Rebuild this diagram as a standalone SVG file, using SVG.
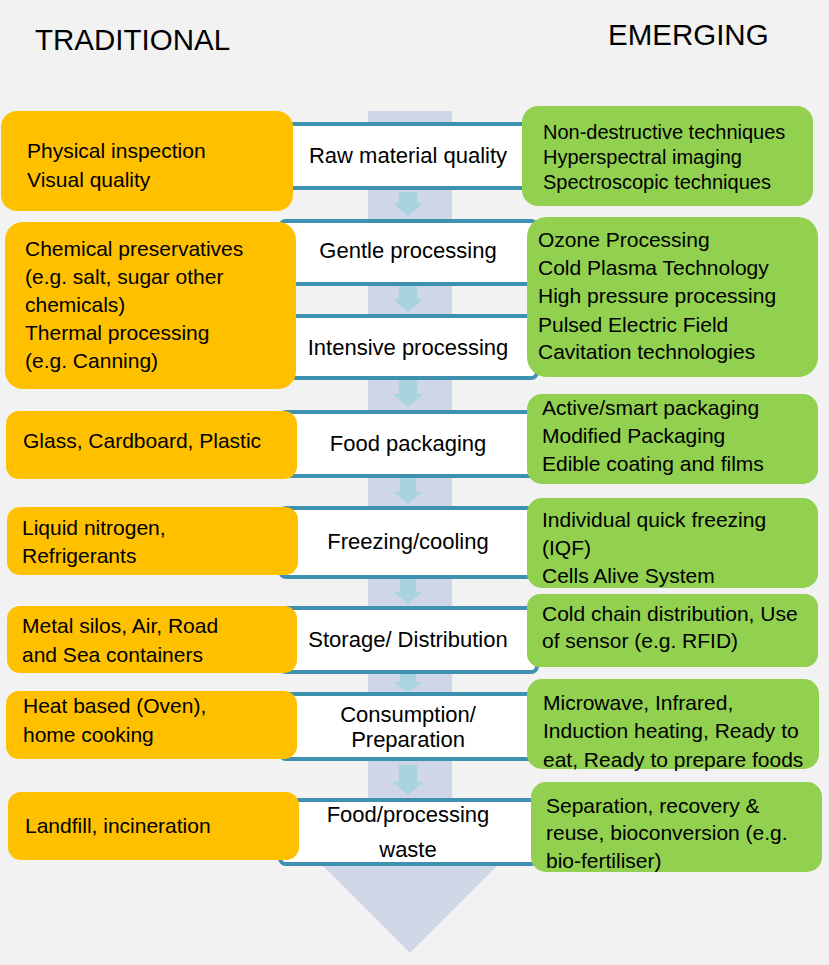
<svg xmlns="http://www.w3.org/2000/svg" width="829" height="965" viewBox="0 0 829 965">
<style>
  text { font-family: "Liberation Sans", Arial, sans-serif; fill: #000; }
  .t { font-size: 21px; }
  .ts { font-size: 20px; }
  .c { font-size: 22px; text-anchor: middle; }
  .h { font-size: 29.5px; }
  .stage { fill: #ffffff; stroke: #3f91b0; stroke-width: 4; }
  .trad { fill: #ffc000; }
  .emer { fill: #92d050; }
  .small { fill: #a9d3df; }
</style>
<rect x="0" y="0" width="829" height="965" fill="#f2f2f2"/>
<polygon id="flow-arrow" points="368,111 452,111 452,865 498,865 410,953 322,865 368,865" fill="#cfd7e7"/>
<text class="h" x="35" y="50">TRADITIONAL</text>
<text class="h" x="608" y="45">EMERGING</text>

<g id="stages">
  <g id="stage-raw"><rect class="stage" x="280" y="124" width="257" height="64" rx="6"/></g>
  <g id="stage-gentle"><rect class="stage" x="280" y="221" width="257" height="63" rx="6"/></g>
  <g id="stage-intensive"><rect class="stage" x="280" y="316" width="257" height="62" rx="6"/></g>
  <g id="stage-packaging"><rect class="stage" x="280" y="412" width="257" height="64" rx="6"/></g>
  <g id="stage-freezing"><rect class="stage" x="280" y="508" width="257" height="69" rx="6"/></g>
  <g id="stage-storage"><rect class="stage" x="280" y="608" width="257" height="64" rx="6"/></g>
  <g id="stage-consumption"><rect class="stage" x="280" y="694" width="257" height="65" rx="6"/></g>
  <g id="stage-waste"><rect class="stage" x="280" y="800" width="257" height="64" rx="6"/></g>
</g>

<g id="connectors">
  <polygon class="small" points="399,192 417,192 417,203 423,203 408,216 393,203 399,203"/>
  <polygon class="small" points="399,286 417,286 417,299 423,299 408,312 393,299 399,299"/>
  <polygon class="small" points="399,380 417,380 417,394 423,394 408,407 393,394 399,394"/>
  <polygon class="small" points="400,478 416,478 416,492 422,492 408,504 394,492 400,492"/>
  <polygon class="small" points="400,579 416,579 416,592 422,592 408,604 394,592 400,592"/>
  <polygon class="small" points="400,674 416,674 416,682 422,682 408,692 394,682 400,682"/>
  <polygon class="small" points="399,765 417,765 417,782 423,782 408,795 393,782 399,782"/>
</g>

<g id="stage-labels">
  <text class="c" x="408" y="163">Raw material quality</text>
  <text class="c" x="408" y="258">Gentle processing</text>
  <text class="c" x="408" y="355">Intensive processing</text>
  <text class="c" x="408" y="451">Food packaging</text>
  <text class="c" x="408" y="549">Freezing/cooling</text>
  <text class="c" x="408" y="647">Storage/ Distribution</text>
  <text class="c" x="408" y="722">Consumption/</text>
  <text class="c" x="408" y="747">Preparation</text>
  <text class="c" x="408" y="822">Food/processing</text>
  <text class="c" x="408" y="857">waste</text>
</g>

<g id="trad-raw">
  <rect class="trad" x="1" y="111" width="292" height="100" rx="16"/>
  <text class="t" x="27" y="158">Physical inspection</text>
  <text class="t" x="27" y="187">Visual quality</text>
</g>
<g id="trad-processing">
  <rect class="trad" x="5" y="222" width="291" height="167" rx="18"/>
  <text class="t" x="25" y="256">Chemical preservatives</text>
  <text class="t" x="25" y="284">(e.g. salt, sugar other</text>
  <text class="t" x="25" y="312">chemicals)</text>
  <text class="t" x="25" y="340">Thermal processing</text>
  <text class="t" x="25" y="368">(e.g. Canning)</text>
</g>
<g id="trad-packaging">
  <rect class="trad" x="6" y="411" width="291" height="68" rx="13"/>
  <text class="t" x="23" y="448">Glass, Cardboard, Plastic</text>
</g>
<g id="trad-freezing">
  <rect class="trad" x="7" y="507" width="291" height="68" rx="13"/>
  <text class="t" x="22" y="535">Liquid nitrogen,</text>
  <text class="t" x="22" y="563">Refrigerants</text>
</g>
<g id="trad-storage">
  <rect class="trad" x="7" y="606" width="290" height="67" rx="13"/>
  <text class="t" x="22" y="633">Metal silos, Air, Road</text>
  <text class="t" x="22" y="662">and Sea containers</text>
</g>
<g id="trad-consumption">
  <rect class="trad" x="6" y="691" width="291" height="68" rx="13"/>
  <text class="t" x="23" y="713">Heat based (Oven),</text>
  <text class="t" x="23" y="742">home cooking</text>
</g>
<g id="trad-waste">
  <rect class="trad" x="8" y="792" width="291" height="68" rx="13"/>
  <text class="t" x="25" y="833">Landfill, incineration</text>
</g>

<g id="emer-raw">
  <rect class="emer" x="522" y="106" width="291" height="100" rx="16"/>
  <text class="ts" x="543" y="139">Non-destructive techniques</text>
  <text class="ts" x="543" y="164">Hyperspectral imaging</text>
  <text class="ts" x="543" y="189">Spectroscopic techniques</text>
</g>
<g id="emer-processing">
  <rect class="emer" x="527" y="217" width="291" height="160" rx="20"/>
  <text class="t" x="538" y="247">Ozone Processing</text>
  <text class="t" x="538" y="275">Cold Plasma Technology</text>
  <text class="t" x="538" y="303">High pressure processing</text>
  <text class="t" x="538" y="332">Pulsed Electric Field</text>
  <text class="t" x="538" y="359">Cavitation technologies</text>
</g>
<g id="emer-packaging">
  <rect class="emer" x="527" y="394" width="291" height="90" rx="15"/>
  <text class="t" x="542" y="415">Active/smart packaging</text>
  <text class="t" x="542" y="443">Modified Packaging</text>
  <text class="t" x="542" y="471">Edible coating and films</text>
</g>
<g id="emer-freezing">
  <rect class="emer" x="527" y="498" width="291" height="90" rx="15"/>
  <text class="t" x="542" y="527">Individual quick freezing</text>
  <text class="t" x="542" y="555">(IQF)</text>
  <text class="t" x="542" y="583">Cells Alive System</text>
</g>
<g id="emer-storage">
  <rect class="emer" x="527" y="594" width="291" height="73" rx="13"/>
  <text class="t" x="542" y="621">Cold chain distribution, Use</text>
  <text class="t" x="542" y="648">of sensor (e.g. RFID)</text>
</g>
<g id="emer-consumption">
  <rect class="emer" x="527" y="679" width="292" height="90" rx="15"/>
  <text class="t" x="543" y="710">Microwave, Infrared,</text>
  <text class="t" x="543" y="738">Induction heating, Ready to</text>
  <text class="t" x="543" y="767">eat, Ready to prepare foods</text>
</g>
<g id="emer-waste">
  <rect class="emer" x="531" y="782" width="291" height="90" rx="15"/>
  <text class="t" x="546" y="813">Separation, recovery &amp;</text>
  <text class="t" x="546" y="840">reuse, bioconversion (e.g.</text>
  <text class="t" x="546" y="868">bio-fertiliser)</text>
</g>
</svg>
